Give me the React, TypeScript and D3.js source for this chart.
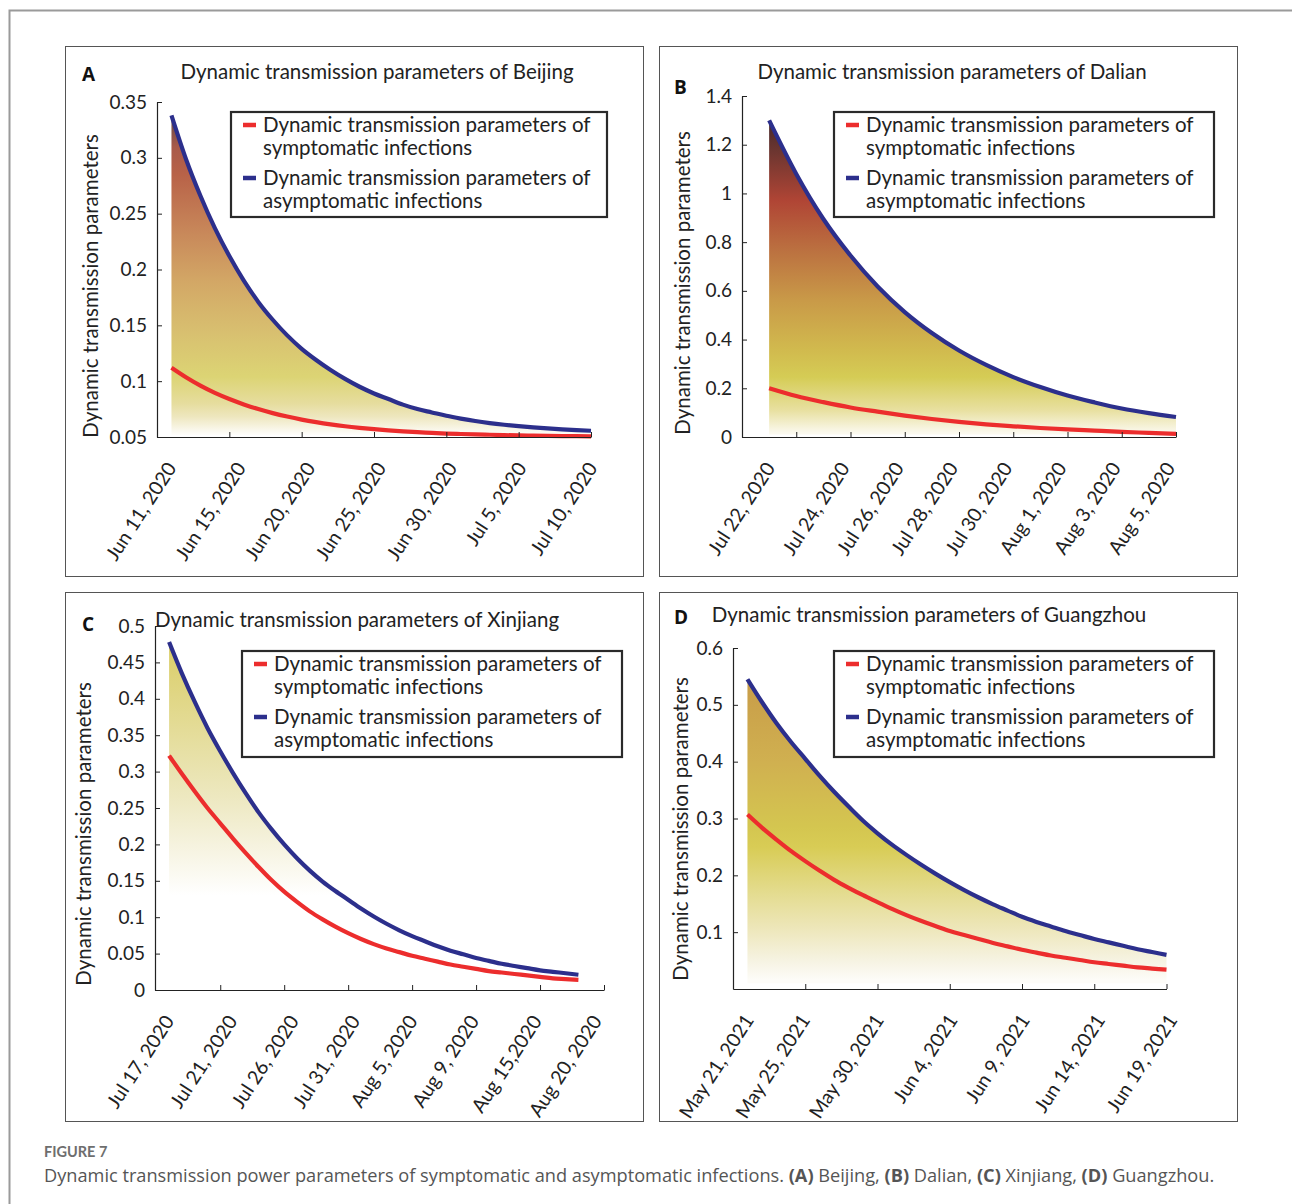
import React, { useEffect, useRef } from 'react';
import * as d3 from 'd3';

// values, one point per day from the first date
const beijingSym = [0.112, 0.1035, 0.096, 0.0895, 0.084, 0.0792, 0.075, 0.0714, 0.0683, 0.0656, 0.0633, 0.0613, 0.0596, 0.0582, 0.057, 0.056, 0.0551, 0.0543, 0.0537, 0.0531, 0.0527, 0.0523, 0.052, 0.0517, 0.0514, 0.0512, 0.051, 0.0508, 0.0507, 0.0506];
const beijingAsym = [0.338, 0.299, 0.266, 0.237, 0.212, 0.190, 0.171, 0.155, 0.141, 0.129, 0.119, 0.110, 0.102, 0.095, 0.089, 0.084, 0.079, 0.075, 0.072, 0.069, 0.0665, 0.0643, 0.0625, 0.061, 0.0597, 0.0586, 0.0577, 0.0569, 0.0562, 0.0556];

const dalianSym = [0.200, 0.168, 0.143, 0.121, 0.104, 0.088, 0.074, 0.062, 0.052, 0.044, 0.037, 0.031, 0.026, 0.021, 0.017, 0.013];
const dalianAsym = [1.30, 1.08, 0.895, 0.745, 0.618, 0.513, 0.427, 0.355, 0.296, 0.246, 0.205, 0.170, 0.142, 0.117, 0.098, 0.082];

const xinjiangSym = [0.322, 0.297, 0.273, 0.250, 0.229, 0.208, 0.188, 0.169, 0.151, 0.135, 0.121, 0.108, 0.097, 0.087, 0.078, 0.070, 0.063, 0.057, 0.052, 0.047, 0.043, 0.039, 0.035, 0.032, 0.029, 0.026, 0.024, 0.022, 0.020, 0.018, 0.016, 0.015, 0.014];
const xinjiangAsym = [0.478, 0.435, 0.396, 0.360, 0.328, 0.298, 0.270, 0.244, 0.221, 0.200, 0.181, 0.164, 0.149, 0.136, 0.124, 0.112, 0.101, 0.091, 0.082, 0.074, 0.067, 0.060, 0.054, 0.049, 0.044, 0.040, 0.036, 0.033, 0.030, 0.027, 0.025, 0.023, 0.021];

const guangzhouSym = [0.307, 0.284, 0.263, 0.243, 0.225, 0.208, 0.192, 0.178, 0.165, 0.153, 0.141, 0.130, 0.120, 0.111, 0.102, 0.095, 0.088, 0.081, 0.075, 0.069, 0.064, 0.059, 0.055, 0.051, 0.047, 0.044, 0.041, 0.038, 0.036, 0.034];
const guangzhouAsym = [0.545, 0.505, 0.468, 0.435, 0.405, 0.375, 0.347, 0.321, 0.296, 0.274, 0.254, 0.236, 0.219, 0.203, 0.188, 0.174, 0.161, 0.149, 0.138, 0.127, 0.118, 0.110, 0.102, 0.095, 0.088, 0.082, 0.076, 0.070, 0.065, 0.060];

const beijingDates = ['Jun 11, 2020', 'Jun 15, 2020', 'Jun 20, 2020', 'Jun 25, 2020', 'Jun 30, 2020', 'Jul 5, 2020', 'Jul 10, 2020'];
const dalianDates = ['Jul 22, 2020', 'Jul 24, 2020', 'Jul 26, 2020', 'Jul 28, 2020', 'Jul 30, 2020', 'Aug 1, 2020', 'Aug 3, 2020', 'Aug 5, 2020'];
const xinjiangDates = ['Jul 17, 2020', 'Jul 21, 2020', 'Jul 26, 2020', 'Jul 31, 2020', 'Aug 5, 2020', 'Aug 9, 2020', 'Aug 15,2020', 'Aug 20, 2020'];
const guangzhouDates = ['May 21, 2021', 'May 25, 2021', 'May 30, 2021', 'Jun 4, 2021', 'Jun 9, 2021', 'Jun 14, 2021', 'Jun 19, 2021'];

// where the date labels sit (days after first point)
const beijingLabelDays = [0.4, 5.2, 10.0, 14.9, 19.8, 24.6, 29.5];
const dalianLabelDays = [0.25, 3, 5, 7, 9, 11, 13, 15];
const xinjiangLabelDays = [0.45, 5.4, 10.2, 15.0, 19.5, 24.3, 29.2, 33.9];
const guangzhouLabelDays = [0.5, 4.4, 9.5, 14.6, 19.6, 24.8, 29.8];

const beijingTickDays = [4, 9, 14, 19, 24, 29];
const dalianTickDays = [1, 3, 5, 7, 9, 11, 13, 15];
const xinjiangTickDays = [4, 9, 14, 19, 24, 29, 34];
const guangzhouTickDays = [4, 9, 14, 19, 24, 29];

const beijingYTicks = [0.05, 0.1, 0.15, 0.2, 0.25, 0.3, 0.35];
const dalianYTicks = [0, 0.2, 0.4, 0.6, 0.8, 1, 1.2, 1.4];
const xinjiangYTicks = [0, 0.05, 0.1, 0.15, 0.2, 0.25, 0.3, 0.35, 0.4, 0.45, 0.5];
const guangzhouYTicks = [0.1, 0.2, 0.3, 0.4, 0.5, 0.6];

const legendText = [
  ['Dynamic transmission parameters of', 'symptomatic infections'],
  ['Dynamic transmission parameters of', 'asymptomatic infections']
];

const RED = '#ec2d2d';
const BLUE = '#2c2f8c';
const FONT = 'Lato, "Noto Sans", sans-serif';

const panels = [
  {
    letter: 'A', letterPos: [82, 81],
    title: 'Dynamic transmission parameters of Beijing', titlePos: [377, 79],
    sym: beijingSym, asym: beijingAsym,
    dates: beijingDates, labelDays: beijingLabelDays, tickDays: beijingTickDays, yTicks: beijingYTicks,
    box: [65.5, 46.5, 578, 530],
    xDomain: [-1, 29], xRange: [157, 591],
    yDomain: [0.05, 0.35], yRange: [437, 102],
    yLabelPos: [98, 286], legend: [231, 112, 376, 105],
    fillBase: 0.052,
    stops: [[0.338, '#5e4848'], [0.31, '#a85a4a'], [0.285, '#b86248'], [0.233, '#c8885a'], [0.188, '#d3a866'], [0.143, '#d8c070'], [0.104, '#dcd474'], [0.08, '#e6dd9e'], [0.068, '#eee7bf'], [0.053, '#fdfcf8']]
  },
  {
    letter: 'B', letterPos: [674, 94],
    title: 'Dynamic transmission parameters of Dalian', titlePos: [952, 79],
    sym: dalianSym, asym: dalianAsym,
    dates: dalianDates, labelDays: dalianLabelDays, tickDays: dalianTickDays, yTicks: dalianYTicks,
    box: [659.5, 46.5, 578, 530],
    xDomain: [-1, 15], xRange: [742, 1176],
    yDomain: [0, 1.4], yRange: [437, 96],
    yLabelPos: [690, 283], legend: [834, 112, 380, 105],
    fillBase: 0.01,
    stops: [[1.31, '#43282a'], [1.18, '#6a3530'], [0.97, '#b04535'], [0.77, '#bb7040'], [0.56, '#c99a48'], [0.357, '#d1ba4e'], [0.246, '#d5cc55'], [0.11, '#e8e0a0'], [0.016, '#fbf9ef']]
  },
  {
    letter: 'C', letterPos: [82, 631],
    title: 'Dynamic transmission parameters of Xinjiang', titlePos: [357, 627],
    sym: xinjiangSym, asym: xinjiangAsym,
    dates: xinjiangDates, labelDays: xinjiangLabelDays, tickDays: xinjiangTickDays, yTicks: xinjiangYTicks,
    box: [65.5, 592.5, 578, 529],
    xDomain: [-1.1, 34], xRange: [155, 604],
    yDomain: [0, 0.5], yRange: [990, 626],
    yLabelPos: [91, 834], legend: [242, 651, 380, 106],
    fillBase: 0.12,
    stops: [[0.48, '#dacd66'], [0.357, '#e4dc98'], [0.265, '#ede8c0'], [0.196, '#f6f3e0'], [0.13, '#ffffff']]
  },
  {
    letter: 'D', letterPos: [674, 624],
    title: 'Dynamic transmission parameters of Guangzhou', titlePos: [929, 622],
    sym: guangzhouSym, asym: guangzhouAsym,
    dates: guangzhouDates, labelDays: guangzhouLabelDays, tickDays: guangzhouTickDays, yTicks: guangzhouYTicks,
    box: [659.5, 592.5, 578, 529],
    xDomain: [-1, 29], xRange: [733, 1166.5],
    yDomain: [0, 0.6], yRange: [989, 648],
    yLabelPos: [688, 829], legend: [834, 651, 380, 106],
    fillBase: 0.01,
    stops: [[0.545, '#c89c48'], [0.40, '#d0b050'], [0.284, '#d4c650'], [0.25, '#d8cc55'], [0.168, '#e4dc90'], [0.109, '#ede6b8'], [0.05, '#f6f3e2'], [0.016, '#fdfcf8']]
  }
];

function drawPanel(svg, defs, p, idx) {
  const g = svg.append('g').attr('class', `panel-${p.letter}`);

  g.append('rect')
    .attr('x', p.box[0]).attr('y', p.box[1])
    .attr('width', p.box[2]).attr('height', p.box[3])
    .attr('fill', '#fff').attr('stroke', '#555').attr('stroke-width', 1);

  const x = d3.scaleLinear().domain(p.xDomain).range(p.xRange);
  const y = d3.scaleLinear().domain(p.yDomain).range(p.yRange);

  // vertical gradient tied to the data values
  const yTop = y(p.stops[0][0]);
  const yBot = y(p.stops[p.stops.length - 1][0]);
  const grad = defs.append('linearGradient')
    .attr('id', `fill-${idx}`)
    .attr('gradientUnits', 'userSpaceOnUse')
    .attr('x1', 0).attr('x2', 0)
    .attr('y1', yTop).attr('y2', yBot);
  p.stops.forEach(([v, c]) => {
    grad.append('stop')
      .attr('offset', (y(v) - yTop) / (yBot - yTop))
      .attr('stop-color', c);
  });

  const area = d3.area()
    .x((d, i) => x(i))
    .y0(y(p.fillBase))
    .y1(d => y(d))
    .curve(d3.curveMonotoneX);

  g.append('path')
    .datum(p.asym)
    .attr('d', area)
    .attr('fill', `url(#fill-${idx})`);

  const line = d3.line()
    .x((d, i) => x(i))
    .y(d => y(d))
    .curve(d3.curveMonotoneX);

  g.append('path').datum(p.sym).attr('d', line)
    .attr('fill', 'none').attr('stroke', RED).attr('stroke-width', 4.2);
  g.append('path').datum(p.asym).attr('d', line)
    .attr('fill', 'none').attr('stroke', BLUE).attr('stroke-width', 4.2);

  // axes, ticks pointing inward
  const yAxis = g.append('g')
    .attr('transform', `translate(${p.xRange[0]},0)`)
    .call(d3.axisLeft(y).tickValues(p.yTicks).tickSizeInner(-5).tickSizeOuter(0).tickPadding(10).tickFormat(d3.format('~g')));
  yAxis.selectAll('text')
    .style('font-family', FONT).style('font-size', '19px').attr('fill', '#222');

  const xAxis = g.append('g')
    .attr('transform', `translate(0,${p.yRange[0]})`)
    .call(d3.axisBottom(x).tickValues(p.tickDays).tickSizeInner(-5).tickSizeOuter(0).tickFormat(() => ''));

  [yAxis, xAxis].forEach(a => {
    a.select('.domain').attr('stroke', '#222').attr('stroke-width', 1.2);
    a.selectAll('.tick line').attr('stroke', '#222');
  });

  g.selectAll('.date-label')
    .data(p.dates)
    .enter()
    .append('text')
    .attr('class', 'date-label')
    .attr('transform', (d, i) => `translate(${x(p.labelDays[i])},${p.yRange[0] + 31}) rotate(-57)`)
    .attr('text-anchor', 'end')
    .style('font-family', FONT).style('font-size', '19.5px')
    .attr('fill', '#222')
    .text(d => d);

  g.append('text')
    .attr('transform', `translate(${p.yLabelPos[0]},${p.yLabelPos[1]}) rotate(-90)`)
    .attr('text-anchor', 'middle')
    .style('font-family', FONT).style('font-size', '20.5px')
    .attr('fill', '#222')
    .text('Dynamic transmission parameters');

  g.append('text')
    .attr('x', p.titlePos[0]).attr('y', p.titlePos[1])
    .attr('text-anchor', 'middle')
    .style('font-family', FONT).style('font-size', '20.5px')
    .attr('fill', '#222')
    .text(p.title);

  g.append('text')
    .attr('x', p.letterPos[0]).attr('y', p.letterPos[1])
    .style('font-family', '"Open Sans", sans-serif').style('font-size', '19px').style('font-weight', 'bold')
    .attr('fill', '#111')
    .text(p.letter);

  // legend
  const [lx, ly, lw, lh] = p.legend;
  const lg = g.append('g').attr('transform', `translate(${lx},${ly})`);
  lg.append('rect')
    .attr('width', lw).attr('height', lh)
    .attr('fill', '#fff').attr('stroke', '#2a2a2a').attr('stroke-width', 2.2);
  [RED, BLUE].forEach((c, i) => {
    const row = lg.append('g').attr('transform', `translate(0,${20 + i * 53})`);
    row.append('line')
      .attr('x1', 12).attr('x2', 25).attr('y1', -7).attr('y2', -7)
      .attr('stroke', c).attr('stroke-width', 4.5);
    legendText[i].forEach((t, j) => {
      row.append('text')
        .attr('x', 32).attr('y', j * 23)
        .style('font-family', FONT).style('font-size', '20.5px')
        .attr('fill', '#222')
        .text(t);
    });
  });
}

export default function App() {
  const ref = useRef(null);

  useEffect(() => {
    const svg = d3.select(ref.current);
    svg.selectAll('*').remove();
    const defs = svg.append('defs');

    svg.append('path')
      .attr('d', 'M9.5,1204 V10.5 H1292')
      .attr('fill', 'none').attr('stroke', '#9a9a9a').attr('stroke-width', 2);

    panels.forEach((p, i) => drawPanel(svg, defs, p, i));

    svg.append('text')
      .attr('x', 44).attr('y', 1157)
      .style('font-family', FONT).style('font-size', '14.5px').style('font-weight', 'bold')
      .attr('fill', '#6e6e6e')
      .text('FIGURE 7');

    const cap = svg.append('text')
      .attr('x', 44).attr('y', 1182)
      .style('font-family', '"Open Sans", sans-serif').style('font-size', '18.2px')
      .attr('fill', '#555');
    const parts = [
      ['Dynamic transmission power parameters of symptomatic and asymptomatic infections. ', false],
      ['(A)', true], [' Beijing, ', false],
      ['(B)', true], [' Dalian, ', false],
      ['(C)', true], [' Xinjiang, ', false],
      ['(D)', true], [' Guangzhou.', false]
    ];
    parts.forEach(([t, b]) => {
      cap.append('tspan').style('font-weight', b ? 'bold' : 'normal').text(t);
    });
  }, []);

  return (
    <svg
      ref={ref}
      width={1292}
      height={1204}
      style={{ position: 'absolute', left: 0, top: 0, background: '#fff' }}
    />
  );
}
